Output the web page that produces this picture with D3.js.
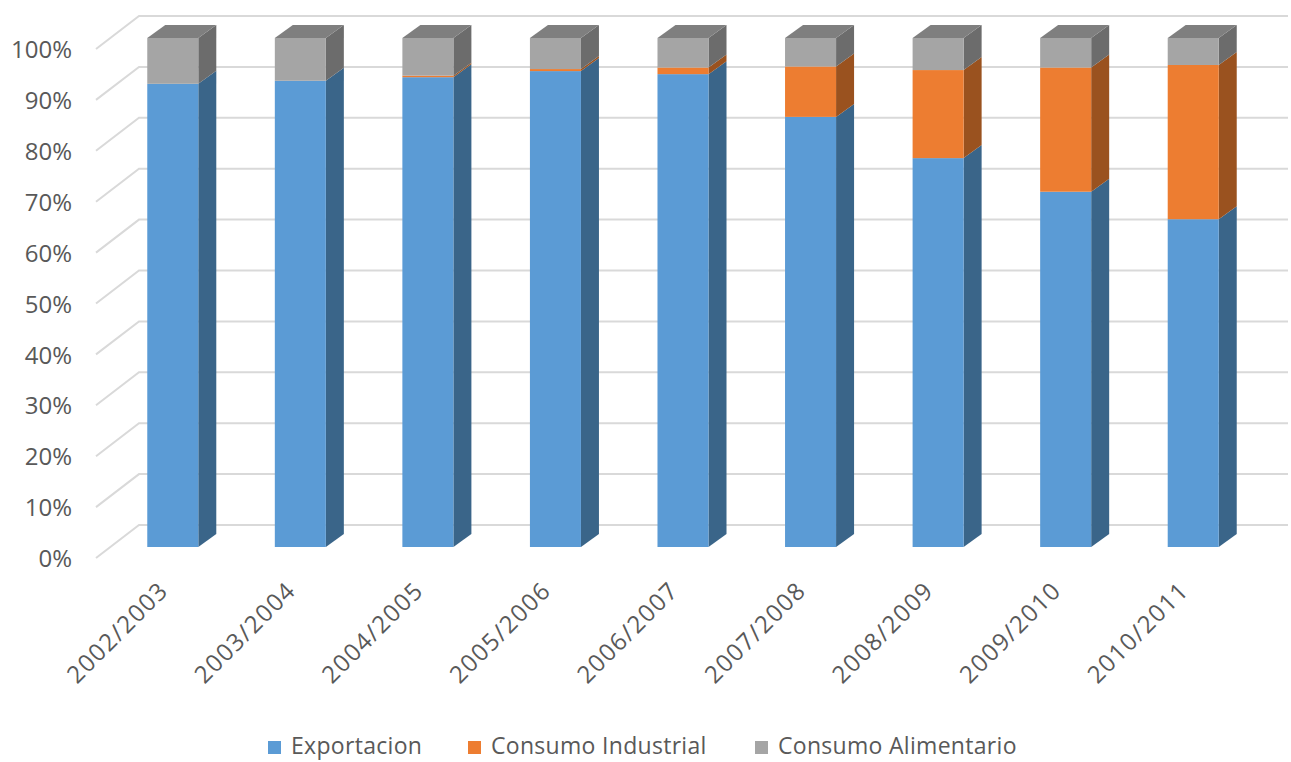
<!DOCTYPE html>
<html>
<head>
<meta charset="utf-8">
<script src="https://cdn.jsdelivr.net/npm/d3@7"></script>
<style>
  body { margin: 0; background: #fff; }
  svg text { font-family: "Open Sans", "Noto Sans", sans-serif; fill: #595959; }
</style>
</head>
<body>
<svg id="chart" width="1291" height="762"></svg>
<script>
// Campaign years
const campaigns = ["2002/2003", "2003/2004", "2004/2005", "2005/2006", "2006/2007",
                   "2007/2008", "2008/2009", "2009/2010", "2010/2011"];
// Share of each destination (fraction of total)
const exportacion        = [0.910, 0.916, 0.923, 0.935, 0.929, 0.845, 0.764, 0.698, 0.644];
const consumoIndustrial  = [0.000, 0.000, 0.003, 0.004, 0.013, 0.099, 0.173, 0.244, 0.303];
const consumoAlimentario = campaigns.map((c, i) => +(1 - exportacion[i] - consumoIndustrial[i]).toFixed(3));
const yTicks = [0, 0.1, 0.2, 0.3, 0.4, 0.5, 0.6, 0.7, 0.8, 0.9, 1.0];

const seriesNames = ["Exportacion", "Consumo Industrial", "Consumo Alimentario"];
const frontColors = ["#5B9BD5", "#ED7D31", "#A5A5A5"];
const sideColors  = ["#3A6589", "#9A521F", "#6C6C6C"];
const topColors   = ["#4A7FAF", "#C26628", "#7F7F7F"];

const rows = campaigns.map((c, i) => ({
  campaign: c,
  "Exportacion": exportacion[i],
  "Consumo Industrial": consumoIndustrial[i],
  "Consumo Alimentario": consumoAlimentario[i]
}));

const svg = d3.select("#chart");

// Front plane of the bars
const x = d3.scaleBand().domain(campaigns).range([109, 1257]).paddingInner(0.6).paddingOuter(0.3);
const y = d3.scaleLinear().domain([0, 1]).range([547, 38]);

// Depth offsets (oblique projection)
const barDX = 18, barDY = 13;          // bar thickness
const wallDX = 30, wallDY = 22;        // back wall relative to bar front
const floorDX = -13, floorDY = 11;     // floor front edge relative to bar front
const wallRight = 1288;

// Gridlines: floor diagonal + back wall horizontal
const grid = svg.append("g");
yTicks.forEach(t => {
  const yf = y(t);
  const x0 = x.range()[0] + floorDX, y0 = yf + floorDY;
  const x1 = x.range()[0] + wallDX,  y1 = yf - wallDY;
  grid.append("path")
    .attr("d", `M${x0},${y0}L${x1},${y1}L${wallRight},${y1}`)
    .attr("fill", "none")
    .attr("stroke", "#D9D9D9")
    .attr("stroke-width", 2);
});

// Y axis labels
const yAxis = d3.axisLeft(y).tickValues(yTicks).tickFormat(d3.format(".0%")).tickSize(0).tickPadding(0);
const yg = svg.append("g")
  .attr("transform", `translate(${x.range()[0] + floorDX - 24},${floorDY + 1})`)
  .call(yAxis);
yg.select(".domain").remove();
yg.selectAll("text").style("font-size", "24px").attr("fill", "#595959").attr("font-family", null);

// Stacked 3D bars
const stack = d3.stack().keys(seriesNames)(rows);
const bars = svg.append("g");
stack.forEach((layer, si) => {
  layer.forEach((seg, ci) => {
    if (seg[1] - seg[0] <= 0) return;
    const xl = x(campaigns[ci]), xr = xl + x.bandwidth();
    const yb = y(seg[0]), yt = y(seg[1]);
    const g = bars.append("g");
    // side face
    g.append("path")
      .attr("d", `M${xr},${yb}L${xr + barDX},${yb - barDY}L${xr + barDX},${yt - barDY}L${xr},${yt}Z`)
      .attr("fill", sideColors[si]);
    // front face
    g.append("rect")
      .attr("x", xl).attr("y", yt)
      .attr("width", x.bandwidth()).attr("height", yb - yt)
      .attr("fill", frontColors[si]);
    // top face on the highest segment
    if (si === stack.length - 1 || d3.sum(stack.slice(si + 1), l => l[ci][1] - l[ci][0]) === 0) {
      g.append("path")
        .attr("d", `M${xl},${yt}L${xr},${yt}L${xr + barDX},${yt - barDY}L${xl + barDX},${yt - barDY}Z`)
        .attr("fill", topColors[si]);
    }
  });
});

// Category labels, rotated
const xAxis = d3.axisBottom(x).tickSize(0).tickPadding(0);
const xg = svg.append("g")
  .attr("transform", `translate(${floorDX},${y(0) + floorDY})`)
  .call(xAxis);
xg.select(".domain").remove();
xg.selectAll("text")
  .style("font-size", "24px")
  .style("letter-spacing", "1.4px")
  .attr("font-family", null)
  .attr("fill", "#595959")
  .attr("text-anchor", "end")
  .attr("dy", "0.35em")
  .attr("transform", "translate(4,28) rotate(-45)");

// Legend
const legendX = [268, 468, 755];
const legend = svg.append("g");
seriesNames.forEach((name, i) => {
  legend.append("rect")
    .attr("x", legendX[i]).attr("y", 741)
    .attr("width", 13).attr("height", 13)
    .attr("fill", frontColors[i]);
  legend.append("text")
    .attr("x", legendX[i] + 23).attr("y", 746)
    .attr("dy", "0.35em")
    .style("font-size", "23px")
    .style("letter-spacing", "0.3px")
    .text(name);
});
</script>
</body>
</html>
